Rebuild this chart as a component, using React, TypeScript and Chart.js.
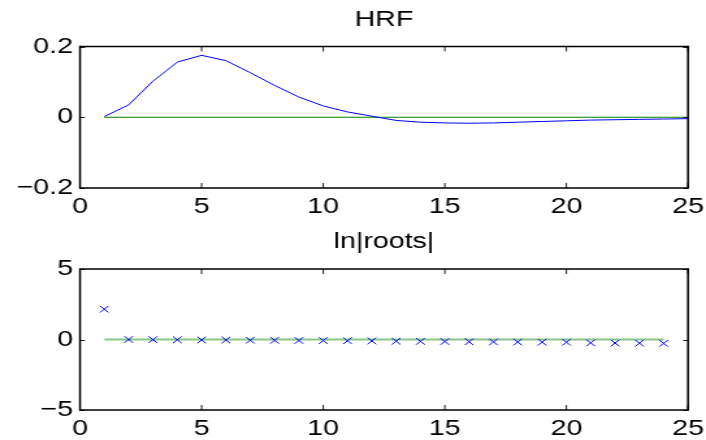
import React, { useEffect, useRef } from 'react';
import { Chart, registerables } from 'chart.js';

Chart.register(...registerables);

// ---- data ----
const hrfTime = [1, 2, 3, 4, 5, 6, 7, 8, 9, 10, 11, 12, 13, 14, 15, 16, 17, 18, 19, 20, 21, 22, 23, 24, 25];
const hrfValues = [
  0.002, 0.035, 0.102, 0.156, 0.175, 0.16, 0.126, 0.09, 0.057, 0.032, 0.015, 0.003, -0.009,
  -0.014, -0.016, -0.017, -0.016, -0.014, -0.012, -0.01, -0.008, -0.007, -0.006, -0.005, -0.004,
];
const hrfZeroLineX = [1, 25];
const hrfZeroLineY = [0, 0];

const rootIndex = [1, 2, 3, 4, 5, 6, 7, 8, 9, 10, 11, 12, 13, 14, 15, 16, 17, 18, 19, 20, 21, 22, 23, 24];
const lnRootValues = [
  2.15, 0.0, -0.01, -0.02, -0.03, -0.04, -0.05, -0.06, -0.07, -0.08, -0.09, -0.1, -0.12,
  -0.13, -0.14, -0.16, -0.17, -0.18, -0.19, -0.19, -0.24, -0.25, -0.26, -0.27,
];
const rootsZeroLineX = [1, 24];
const rootsZeroLineY = [0, 0];

const xTickValues = [0, 5, 10, 15, 20, 25];
const hrfYTicks = [-0.2, 0, 0.2];
const rootsYTicks = [-5, 0, 5];
const panelTitles = ['HRF', 'ln|roots|'];

// ---- layout / styling ----
// The reference figure is horizontally stretched (~1.3x); draw on a narrower
// bitmap and let the browser stretch it to 706px wide.
const OUT_W = 706;
const STRETCH = 1.3;
const CANVAS_W = Math.round(OUT_W / STRETCH);
const SX = OUT_W / CANVAS_W;
const AXIS_LEFT = 80 / SX;
const AXIS_RIGHT = 688 / SX;

const FONT_FAMILY = "'Liberation Sans', Arial, Helvetica, sans-serif";
const FONT = { family: FONT_FAMILY, size: 22, lineHeight: 1.2 };

const fmt = (v: number) => (v < 0 ? '\u2212' + String(-v) : String(v));

const boxPlugin = {
  id: 'matlabBox',
  afterDatasetsDraw(chart: any) {
    const { ctx, chartArea: a } = chart;
    const xs = chart.scales.x;
    const ys = chart.scales.y;
    const tlx = 5;
    const tly = 5 / SX;
    ctx.save();
    ctx.strokeStyle = '#222';
    ctx.lineWidth = 1;
    ctx.beginPath();
    xs.ticks.forEach((t: any) => {
      const px = xs.getPixelForValue(t.value);
      ctx.moveTo(px, a.top);
      ctx.lineTo(px, a.top + tlx);
      ctx.moveTo(px, a.bottom);
      ctx.lineTo(px, a.bottom - tlx);
    });
    ys.ticks.forEach((t: any) => {
      const py = Math.round(ys.getPixelForValue(t.value)) + 0.5;
      ctx.moveTo(a.left, py);
      ctx.lineTo(a.left + tly, py);
      ctx.moveTo(a.right, py);
      ctx.lineTo(a.right - tly, py);
    });
    ctx.stroke();
    ctx.strokeStyle = '#000';
    ctx.lineWidth = 1.3;
    ctx.beginPath();
    ctx.moveTo(a.left, a.top);
    ctx.lineTo(a.right, a.top);
    ctx.moveTo(a.left, a.bottom);
    ctx.lineTo(a.right, a.bottom);
    ctx.stroke();
    ctx.lineWidth = 1.5;
    ctx.beginPath();
    ctx.moveTo(a.left, a.top - 0.65);
    ctx.lineTo(a.left, a.bottom + 0.65);
    ctx.moveTo(a.right, a.top - 0.65);
    ctx.lineTo(a.right, a.bottom + 0.65);
    ctx.stroke();
    ctx.restore();
  },
};

function makeConfig(opts: {
  title: string;
  padTop: number;
  padBottom: number;
  xAxisHeight: number;
  yMin: number;
  yMax: number;
  yTicks: number[];
  datasets: any[];
}): any {
  return {
    type: 'scatter',
    data: { datasets: opts.datasets },
    options: {
      animation: false,
      responsive: false,
      maintainAspectRatio: false,
      devicePixelRatio: 1,
      events: [],
      layout: { padding: { left: 0, right: CANVAS_W - AXIS_RIGHT, top: 0, bottom: 0 } },
      plugins: {
        legend: { display: false },
        tooltip: { enabled: false },
        title: {
          display: true,
          text: opts.title,
          color: '#000',
          font: { family: FONT_FAMILY, size: 22, weight: 'normal', lineHeight: 1.2 },
          padding: { top: opts.padTop, bottom: opts.padBottom },
          fullSize: false,
        },
      },
      scales: {
        x: {
          type: 'linear',
          min: 0,
          max: 25,
          grid: { display: false, drawTicks: false },
          border: { display: false },
          ticks: {
            color: '#000',
            font: FONT,
            padding: 6.2,
            maxRotation: 0,
            autoSkip: false,
            callback: (v: any) => fmt(Number(v)),
          },
          afterBuildTicks: (axis: any) => {
            axis.ticks = xTickValues.map((v) => ({ value: v }));
          },
          afterFit: (axis: any) => {
            axis.height = opts.xAxisHeight;
            axis.paddingLeft = 0;
            axis.paddingRight = 0;
          },
        },
        y: {
          type: 'linear',
          min: opts.yMin,
          max: opts.yMax,
          grid: { display: false, drawTicks: false },
          border: { display: false },
          ticks: {
            color: '#000',
            font: FONT,
            padding: 7 / SX,
            autoSkip: false,
            callback: (v: any) => fmt(Number(v)),
          },
          afterBuildTicks: (axis: any) => {
            axis.ticks = opts.yTicks.map((v) => ({ value: v }));
          },
          afterFit: (axis: any) => {
            axis.width = AXIS_LEFT;
            axis.paddingTop = 0;
            axis.paddingBottom = 0;
          },
        },
      },
    },
    plugins: [boxPlugin],
  };
}

function hrfConfig() {
  return makeConfig({
    title: panelTitles[0],
    padTop: 6.5,
    padBottom: 13.6,
    xAxisHeight: 32,
    yMin: hrfYTicks[0],
    yMax: hrfYTicks[hrfYTicks.length - 1],
    yTicks: hrfYTicks,
    datasets: [
      {
        data: hrfTime.map((x, i) => ({ x, y: hrfValues[i] })),
        showLine: true,
        borderColor: '#0000ff',
        borderWidth: 1,
        pointRadius: 0,
        tension: 0,
      },
      {
        data: hrfZeroLineX.map((x, i) => ({ x, y: hrfZeroLineY[i] })),
        showLine: true,
        borderColor: '#008000',
        borderWidth: 1,
        pointRadius: 0,
      },
    ],
  });
}

function rootsConfig() {
  return makeConfig({
    title: panelTitles[1],
    padTop: 9.2,
    padBottom: 13.4,
    xAxisHeight: 30,
    yMin: rootsYTicks[0],
    yMax: rootsYTicks[rootsYTicks.length - 1],
    yTicks: rootsYTicks,
    datasets: [
      {
        data: rootIndex.map((x, i) => ({ x, y: lnRootValues[i] })),
        showLine: false,
        pointStyle: 'crossRot',
        pointRadius: 4.7,
        borderColor: '#0000ff',
        backgroundColor: '#0000ff',
        borderWidth: 1,
      },
      {
        data: rootsZeroLineX.map((x, i) => ({ x, y: rootsZeroLineY[i] })),
        showLine: true,
        borderColor: '#86c986',
        borderWidth: 2,
        pointRadius: 0,
      },
    ],
  });
}

function Panel({ build, top, height }: { build: () => any; top: number; height: number }) {
  const ref = useRef<HTMLCanvasElement>(null);
  useEffect(() => {
    const chart = new Chart(ref.current as HTMLCanvasElement, build());
    return () => chart.destroy();
  }, []);
  return (
    <canvas
      ref={ref}
      width={CANVAS_W}
      height={height}
      style={{ position: 'absolute', left: 0, top, width: OUT_W, height, display: 'block' }}
    />
  );
}

export default function App() {
  return (
    <div style={{ position: 'fixed', left: 0, top: 0, width: OUT_W, height: 440, background: '#fff' }}>
      <Panel build={hrfConfig} top={0} height={220} />
      <Panel build={rootsConfig} top={220} height={220} />
    </div>
  );
}
